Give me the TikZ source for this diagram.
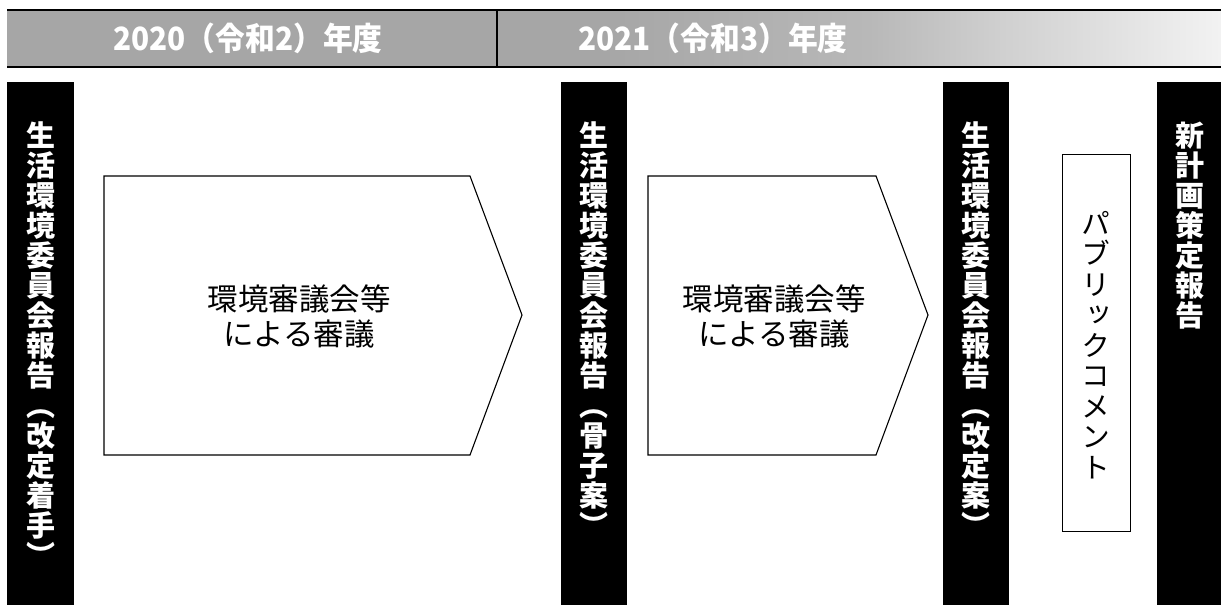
\documentclass[tikz,border=0pt]{standalone}
\usepackage{fontspec}
\setmainfont{Noto Sans CJK JP}
\newfontfamily\vjp[RawFeature=+vert]{Noto Sans CJK JP}
\definecolor{hA}{HTML}{A6A6A6}
\definecolor{hB}{HTML}{B8B8B8}
\definecolor{hC}{HTML}{D0D0D0}
\definecolor{hD}{HTML}{F2F2F2}
\pgfdeclarehorizontalshading{hdrshade}{100bp}{color(0bp)=(hA); color(25bp)=(hA); color(49.5bp)=(hA); color(60.5bp)=(hB); color(66bp)=(hC); color(75bp)=(hD); color(100bp)=(hD)}
\tikzset{
  barbox/.style={fill=black, draw=none, inner sep=0pt, anchor=north west},
  barlabel/.style={text=white, font=\vjp\bfseries\fontsize{29}{30}\selectfont, align=center, inner sep=0pt, anchor=north},
  pclabel/.style={text=black, font=\vjp\fontsize{29}{30.5}\selectfont, align=center, inner sep=0pt, anchor=north},
  arrowshape/.style={draw=black, fill=white, line width=1.1pt, line join=miter},
  arrowlabel/.style={text=black, font=\fontsize{30.5}{35}\selectfont, align=center, inner sep=0pt},
  yearlabel/.style={text=white, font=\bfseries\fontsize{32}{33}\selectfont, inner sep=0pt},
}
\begin{document}
\begin{tikzpicture}[x=1pt,y=-1pt]
\useasboundingbox (0,0) rectangle (1221,605);
\fill[white] (0,0) rectangle (1221,605);
% header band
\shade[shading=hdrshade] (7,10) rectangle (1221,67);
\draw[line width=2pt] (7,10) -- (1221,10);
\draw[line width=2pt] (7,67) -- (1221,67);
\draw[line width=1.2pt] (497,10) -- (497,67);
\node[yearlabel] (y2020) at (248,38.5) {\scalebox{0.93}[1]{2020（令和2）年度}};
\node[yearlabel] (y2021) at (713,38.5) {\scalebox{0.93}[1]{2021（令和3）年度}};
% black bars
\node[barbox, minimum width=67pt, minimum height=524pt] (b1) at (7,82) {};
\node[barbox, minimum width=66pt, minimum height=524pt] (b2) at (561,82) {};
\node[barbox, minimum width=66pt, minimum height=524pt] (b3) at (943,82) {};
\node[barbox, minimum width=65pt, minimum height=524pt] (b4) at (1157,82) {};
\node[barlabel] (t1) at (40.5,121) {生\\活\\環\\境\\委\\員\\会\\報\\告\\（\\改\\定\\着\\手\\）};
\node[barlabel] (t2) at (594,121) {生\\活\\環\\境\\委\\員\\会\\報\\告\\（\\骨\\子\\案\\）};
\node[barlabel] (t3) at (976,121) {生\\活\\環\\境\\委\\員\\会\\報\\告\\（\\改\\定\\案\\）};
\node[barlabel] (t4) at (1190,122) {新\\計\\画\\策\\定\\報\\告};
% arrows
\draw[arrowshape] (104,176) -- (470,176) -- (522,315) -- (470,455) -- (104,455) -- cycle;
\draw[arrowshape] (648,176) -- (876,176) -- (928,315) -- (876,455) -- (648,455) -- cycle;
\node[arrowlabel] (a1) at (299,316) {環境審議会等\\による審議};
\node[arrowlabel] (a2) at (774,316) {環境審議会等\\による審議};
% public comment
\node[draw=black, line width=0.9pt, fill=white, minimum width=68pt, minimum height=377pt, inner sep=0pt, anchor=north west] (pc) at (1062,154) {};
\node[pclabel] (pct) at (1096,211) {パ\\ブ\\リ\\ッ\\ク\\コ\\メ\\ン\\ト};
\end{tikzpicture}
\end{document}
